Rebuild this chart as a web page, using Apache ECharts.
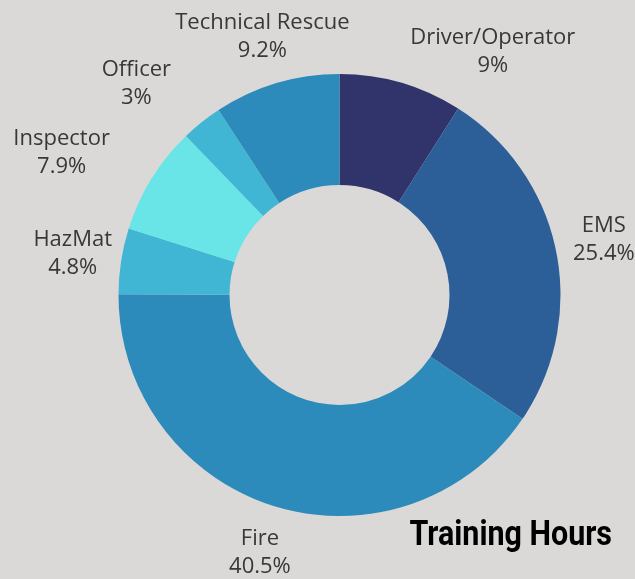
<!DOCTYPE html>
<html>
<head>
<meta charset="utf-8">
<script src="https://cdn.jsdelivr.net/npm/echarts@6/dist/echarts.min.js"></script>
<style>
  html, body { margin: 0; padding: 0; background: #dad9d8; }
  #chart { width: 635px; height: 579px; }
</style>
</head>
<body>
<div id="chart"></div>
<script>
const categories = ['Driver/Operator', 'EMS', 'Fire', 'HazMat', 'Inspector', 'Officer', 'Technical Rescue'];
const hours = [9, 25.4, 40.5, 4.8, 7.9, 3, 9.2];

const SLICE_COLORS = ['#30346b', '#2c5f98', '#2c8bba', '#40b6d4', '#69e5e8', '#40b6d4', '#2c8bba'];
// labels that sit centred on their slice direction; the rest keep side alignment
const CENTERED = ['EMS', 'Fire', 'HazMat', 'Technical Rescue'];
const CX = 339.5, CY = 295;

const chart = echarts.init(document.getElementById('chart'));

const data = categories.map((name, i) => {
  const item = { name: name, value: hours[i], itemStyle: { color: SLICE_COLORS[i] } };
  if (name === 'Driver/Operator') item.labelLine = { length: 32 };
  return item;
});

chart.setOption({
  backgroundColor: '#dad9d8',
  animation: false,
  graphic: [{
    type: 'text',
    x: 612,
    y: 536,
    scaleX: 0.87,   // squeeze Roboto bold to a condensed look
    style: {
      text: 'Training Hours',
      fontFamily: 'Roboto, sans-serif',
      fontWeight: 'bold',
      fontSize: 35,
      fill: '#000',
      align: 'right',
      verticalAlign: 'middle'
    }
  }],
  series: [{
    type: 'pie',
    center: [CX, CY],
    radius: [110, 221],
    startAngle: 90,
    clockwise: true,
    avoidLabelOverlap: false,
    emphasis: { disabled: true },
    data: data,
    label: {
      show: true,
      position: 'outside',
      distanceToLabelLine: 0,
      formatter: '{t|{b}}\n{t|{c}%}',
      rich: {
        t: {
          align: 'center',
          fontFamily: '"Open Sans", sans-serif',
          fontSize: 22,
          lineHeight: 28,
          color: '#383838'
        }
      }
    },
    labelLine: { show: false, length: 49, length2: 0 },
    labelLayout: params => {
      if (!CENTERED.includes(categories[params.dataIndex])) return {};
      const r = params.labelRect;
      const leftSide = r.x + r.width / 2 < CX;
      return { dx: (leftSide ? 1 : -1) * r.width / 2 };
    }
  }]
});
</script>
</body>
</html>
